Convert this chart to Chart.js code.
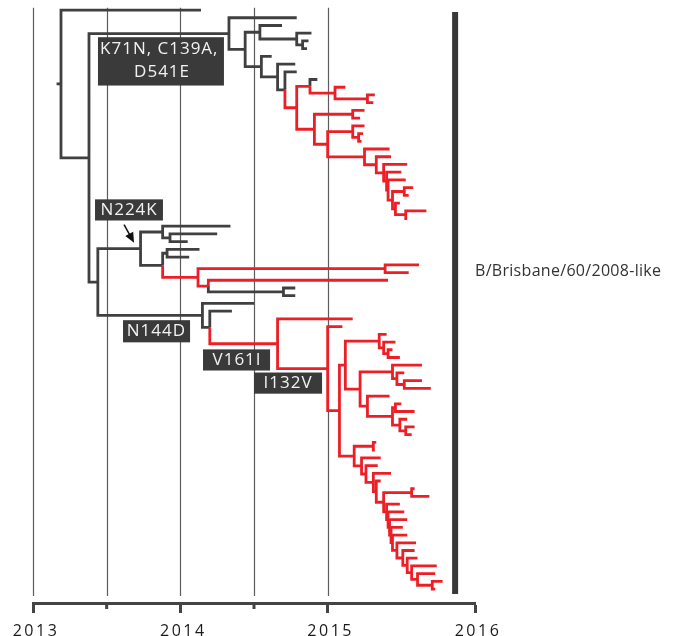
<!DOCTYPE html>
<html><head><meta charset="utf-8">
<script src="https://cdn.jsdelivr.net/npm/chart.js@4.4.1/dist/chart.umd.min.js"></script>
<style>html,body{margin:0;padding:0;background:#fff;}canvas{display:block;}</style>
</head><body>
<canvas id="c" width="690" height="636"></canvas>
<script>
// ================= DATA =================
// Axis ticks (decimal years)
const yearTicks = [2013, 2014, 2015, 2016];
const halfYearTicks = [2013.5, 2014.5];
const gridYears = [2013, 2013.5, 2014, 2014.5, 2015];

// Tree nodes: [date (decimal year), group (0 = older, 1 = recent subgroup), ...children]
// Ladder (caterpillar) parts: list of [spine node date, side child], ending with a tail node.
function ladder(group, steps, tail) {
  return steps.reduceRight((acc, s) => [s[0], group, s[1], acc], tail);
}

const cladeRedA = [2014.88,1, [2014.93,0], [2015.05,1, [2015.12,1], [2015.27,1,[2015.32,1],[2015.31,1]]]];

const ladderTopSteps = [[2015.25,[2015.42,1]],[2015.33,[2015.43,1]],[2015.38,[2015.54,1]],[2015.40,[2015.50,1]],[2015.41,[2015.53,1]]];
const ladderTopTail = [2015.44,1, [2015.52,1,[2015.58,1],[2015.55,1]], [2015.46,1,[2015.49,1],[2015.53,1,[2015.67,1],[2015.54,1]]]];
const ladderTop = ladder(1, ladderTopSteps, ladderTopTail);

const cladeRedB = [2014.91,1,
  [2015.17,1,[2015.25,1],[2015.22,1]],
  [2015.00,1, [2015.17,1,[2015.25,1],[2015.21,1,[2015.24,1],[2015.23,1]]], ladderTop]];

const cladeK71N = [2014.33,0,
  [2014.79,0],
  [2014.44,0,
    [2014.54,0, [2014.69,0], [2014.79,0, [2014.89,0], [2014.83,0,[2014.87,0],[2014.86,0]]]],
    ladder(0, [[2014.55,[2014.62,0]],[2014.66,[2014.78,0]],[2014.71,[2014.79,0]]], [2014.79,1, cladeRedA, cladeRedB])]];

const cladeN224K = [2013.73,0,
  [2013.88,0, [2014.34,0], [2013.93,0,[2014.25,0],[2014.05,0]]],
  [2013.88,0,
    [2013.91,0,[2014.13,0],[2014.06,0]],
    [2014.12,1,
      [2015.39,1,[2015.62,1],[2015.55,1]],
      [2014.19,1, [2015.41,1], [2014.70,0,[2014.78,0],[2014.78,0]]]]]];

const cladeAE = [2015.35,1, [2015.40,1], [2015.38,1, [2015.46,1], [2015.41,1,[2015.44,1],[2015.49,1]]]];
const cladeAG = [2015.44,1, [2015.64,1], [2015.47,1, [2015.52,1], [2015.52,1,[2015.64,1],[2015.70,1]]]];
const cladeAH = [2015.27,1, [2015.42,1],
  [2015.44,1, [2015.46,1,[2015.50,1],[2015.59,1]], [2015.49,1, [2015.54,1], [2015.53,1,[2015.59,1],[2015.57,1]]]]];
const cladeNAC = [2015.12,1, cladeAE, [2015.22,1, cladeAG, cladeAH]];

const ladderBottomSteps = [[2015.40,[2015.49,1]],[2015.41,[2015.52,1]],[2015.42,[2015.54,1]],[2015.43,[2015.51,1]],
  [2015.44,[2015.54,1]],[2015.47,[2015.60,1]],[2015.51,[2015.59,1]],[2015.54,[2015.61,1]],[2015.57,[2015.74,1]],[2015.61,[2015.73,1]]];
const ladderBottom = ladder(1, ladderBottomSteps, [2015.71,1,[2015.78,1],[2015.73,1]]);
const ladderMidSteps = [[2015.23,[2015.36,1]],[2015.26,[2015.34,1]],[2015.31,[2015.43,1]],[2015.33,[2015.36,1]]];
const cladeNAD = [2015.18,1,
  [2015.31,1,[2015.33,1],[2015.32,1]],
  ladder(1, ladderMidSteps, [2015.38,1, [2015.57,1,[2015.59,1],[2015.69,1]], ladderBottom])];

const cladeN144D = [2014.15,0,
  [2014.50,0],
  ladder(0, [[2014.20,[2014.35,0]]],
    ladder(1, [[2014.66,[2015.17,1]],[2015.00,[2015.10,1]]], [2015.08,1, cladeNAC, cladeNAD]))];

const tree = [2013.16,0, [2013.19,0, [2014.14,0], [2013.38,0, cladeK71N, [2013.44,0, cladeN224K, cladeN144D]]]];

const mutationTexts = [['K71N, C139A,', 'D541E'], ['N224K'], ['N144D'], ['V161I'], ['I132V']];
const cladeName = 'B/Brisbane/60/2008-like';

// ================= LAYOUT (annotations, in year / row units) =================
const labelBoxes = [
  {x0:2013.441, x1:2014.296, y0:3.52, y1:9.78, lines:[[2013.455,5.09,'left'],[2013.876,8.09,'center']]},
  {x0:2013.421, x1:2013.882, y0:24.52, y1:27.26, lines:[[2013.652,25.89,'center']]},
  {x0:2013.611, x1:2014.066, y0:40.17, y1:43.04, lines:[[2013.838,41.61,'center']]},
  {x0:2014.154, x1:2014.609, y0:43.95, y1:46.69, lines:[[2014.385,45.32,'center']]},
  {x0:2014.500, x1:2014.962, y0:46.95, y1:49.69, lines:[[2014.731,48.32,'center']]}
];
const arrowN224K = {from:[2013.618,27.78], to:[2013.686,30.13]};
const cladeBarYear = 2015.865, cladeBarRows = [0.26, 75.65];
const cladeNameAnchor = [2016.0, 33.9];

const GROUP_COLORS = ['#404040', '#ec1f27'];
const FONT = '"Open Sans", "Noto Sans", sans-serif';

// ---- node positions: leaves in order, internal = middle of first/last child ----
let leafIndex = 0;
function place(node) {
  const kids = node.slice(2).map(place);
  const y = kids.length ? (kids[0].y + kids[kids.length - 1].y) / 2 : leafIndex++;
  return {x: node[0], g: node[1], y, kids};
}
const root = place(tree);
const branchPts = [[], []];
(function walk(n) {
  n.kids.forEach(k => {
    branchPts[k.g].push({x:n.x, y:n.y}, {x:n.x, y:k.y}, {x:k.x, y:k.y}, {x:NaN, y:NaN});
    walk(k);
  });
})(root);

const decor = {
  id: 'decor',
  beforeDraw(chart) { chart.ctx.letterSpacing = '2.5px'; },
  beforeDatasetsDraw(chart) {
    const ctx = chart.ctx, xs = chart.scales.x, ys = chart.scales.y;
    ctx.save();
    ctx.letterSpacing = '0px';
    ctx.strokeStyle = '#5c5c5c';
    ctx.lineWidth = 1.2;
    gridYears.forEach(yr => {
      const px = Math.round(xs.getPixelForValue(yr)) + 0.5;
      ctx.beginPath();
      ctx.moveTo(px, ys.getPixelForValue(-0.3));
      ctx.lineTo(px, ys.getPixelForValue(75.9));
      ctx.stroke();
    });
    const b = chart.chartArea.bottom;
    ctx.strokeStyle = '#444';
    ctx.lineWidth = 3;
    halfYearTicks.forEach(yr => {
      const px = xs.getPixelForValue(yr);
      ctx.beginPath(); ctx.moveTo(px, b); ctx.lineTo(px, b + 6); ctx.stroke();
    });
    ctx.restore();
  },
  afterDatasetsDraw(chart) {
    const ctx = chart.ctx, xs = chart.scales.x, ys = chart.scales.y;
    const X = v => xs.getPixelForValue(v), Y = v => ys.getPixelForValue(v);
    ctx.save();
    ctx.letterSpacing = '1px';
    labelBoxes.forEach((bx, i) => {
      ctx.fillStyle = '#3a3a3a';
      ctx.fillRect(X(bx.x0), Y(bx.y0), X(bx.x1) - X(bx.x0), Y(bx.y1) - Y(bx.y0));
      ctx.fillStyle = '#f2f2f2';
      ctx.font = '17px ' + FONT;
      ctx.textBaseline = 'middle';
      bx.lines.forEach((ln, j) => {
        ctx.textAlign = ln[2];
        ctx.fillText(mutationTexts[i][j], X(ln[0]), Y(ln[1]));
      });
    });
    const fx = X(arrowN224K.from[0]), fy = Y(arrowN224K.from[1]);
    const tx = X(arrowN224K.to[0]), ty = Y(arrowN224K.to[1]);
    const ang = Math.atan2(ty - fy, tx - fx);
    ctx.strokeStyle = '#111'; ctx.fillStyle = '#111'; ctx.lineWidth = 1.5;
    ctx.beginPath(); ctx.moveTo(fx, fy);
    ctx.lineTo(tx - 7 * Math.cos(ang), ty - 7 * Math.sin(ang)); ctx.stroke();
    ctx.beginPath();
    ctx.moveTo(tx, ty);
    ctx.lineTo(tx - 10 * Math.cos(ang) + 4.5 * Math.sin(ang), ty - 10 * Math.sin(ang) - 4.5 * Math.cos(ang));
    ctx.lineTo(tx - 10 * Math.cos(ang) - 4.5 * Math.sin(ang), ty - 10 * Math.sin(ang) + 4.5 * Math.cos(ang));
    ctx.closePath(); ctx.fill();
    ctx.letterSpacing = '0.3px';
    ctx.fillStyle = '#333';
    ctx.font = '16px ' + FONT;
    ctx.textAlign = 'left';
    ctx.textBaseline = 'middle';
    ctx.fillText(cladeName, X(cladeNameAnchor[0]), Y(cladeNameAnchor[1]));
    ctx.restore();
  }
};

new Chart(document.getElementById('c'), {
  type: 'scatter',
  data: {
    datasets: [
      {data: branchPts[1], showLine: true, borderColor: GROUP_COLORS[1], borderWidth: 2.8, pointRadius: 0, borderJoinStyle: 'miter', borderCapStyle: 'butt', spanGaps: false, order: 0},
      {data: branchPts[0], showLine: true, borderColor: GROUP_COLORS[0], borderWidth: 2.8, pointRadius: 0, borderJoinStyle: 'miter', borderCapStyle: 'butt', spanGaps: false, order: 1},
      {data: [{x: cladeBarYear, y: cladeBarRows[0]}, {x: cladeBarYear, y: cladeBarRows[1]}], showLine: true, borderColor: '#383838', borderWidth: 6, pointRadius: 0, borderCapStyle: 'butt', order: 2}
    ]
  },
  options: {
    responsive: false,
    animation: false,
    devicePixelRatio: 1,
    layout: {padding: {left: 33, right: 215, top: 0, bottom: -13}},
    plugins: {legend: {display: false}, tooltip: {enabled: false}},
    scales: {
      x: {
        type: 'linear', min: 2013, max: 2016,
        afterBuildTicks: s => { s.ticks = [2013, 2013.5, 2014, 2014.5, 2015, 2015.5, 2016].map(v => ({value: v})); },
        ticks: {
          autoSkip: false, maxRotation: 0, padding: 10, labelOffset: 3,
          color: '#1a1a1a', font: {family: FONT, size: 16, lineHeight: 1},
          callback: v => yearTicks.includes(v) ? String(v) : ''
        },
        grid: {
          drawOnChartArea: false, drawTicks: true, tickLength: 10, tickWidth: 3,
          tickColor: c => yearTicks.includes(c.tick.value) ? '#444' : 'rgba(0,0,0,0)'
        },
        border: {display: true, color: '#444', width: 3}
      },
      y: {type: 'linear', reverse: true, min: -1.3, max: 76.8, display: false}
    }
  },
  plugins: [decor]
});
</script>
</body></html>
